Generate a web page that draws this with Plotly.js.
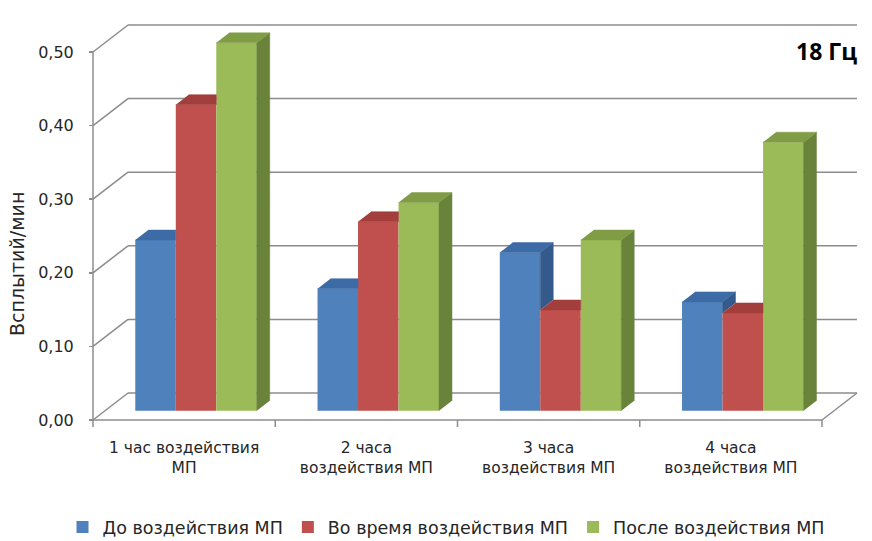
<!DOCTYPE html>
<html><head><meta charset="utf-8">
<script src="https://cdn.plot.ly/plotly-3.0.1.min.js"></script>
<style>html,body{margin:0;padding:0;background:#fff}#chart{width:872px;height:541px}</style>
</head><body><div id="chart"></div>
<script>
// ---- data ----
const categories = ['1 час воздействия<br>МП', '2 часа<br>воздействия МП', '3 часа<br>воздействия МП', '4 часа<br>воздействия МП'];
const seriesNames = ['До воздействия МП', 'Во время воздействия МП', 'После воздействия МП'];
const beforeVals = [0.232, 0.166, 0.215, 0.148];
const duringVals = [0.416, 0.257, 0.137, 0.133];
const afterVals  = [0.500, 0.283, 0.232, 0.365];
const yTickVals = [0, 0.1, 0.2, 0.3, 0.4, 0.5];
const yTickText = ['0,00', '0,10', '0,20', '0,30', '0,40', '0,50'];
const yTitle = 'Всплытий/мин';
const chartTitle = '<b>18 Гц</b>';

// ---- style ----
const frontColors = ['#4F81BD', '#C0504D', '#9BBB59'];
const topColors   = ['#3D6BA6', '#A23E3B', '#809D46'];
const sideColors  = ['#335A8B', '#8A3432', '#69833A'];
const gridColor = '#8c8c8c';
const textColor = '#262626';
const FONT = '"DejaVu Sans", "Noto Sans", sans-serif';
const TITLE_FONT = '"Open Sans", "Noto Sans", sans-serif';

// ---- geometry (pixels) ----
const W = 872, H = 541;
const PL = 88, PR = 862, PT = 20, PB = 430;   // plot area
const AX0 = 93, AXY0 = 420;                    // front axis origin
const PXX = 182.25;                            // px per category
const PXY = 736;                               // px per value unit
const DEPTH_PX = [35, 27];                     // full depth offset (right, up)
const F1 = 0.34, F2 = 0.71;                    // bar front/back depth fraction
const BARGAP = 1 / 3;

const xr = [(PL - AX0) / PXX - 0.5, (PR - AX0) / PXX - 0.5];
const yr = [(AXY0 - PB) / PXY, (AXY0 - PT) / PXY];
const DX = DEPTH_PX[0] / PXX, DY = DEPTH_PX[1] / PXY;
const ddx = (F2 - F1) * DX, ddy = (F2 - F1) * DY;
const xr2 = [xr[0] - F1 * DX, xr[1] - F1 * DX];
const yr2 = [yr[0] - F1 * DY, yr[1] - F1 * DY];

const series = [beforeVals, duringVals, afterVals];
const nCat = categories.length;
const catIdx = categories.map((_, i) => i);
const xMin = -0.5, xMax = nCat - 0.5;

// ---- decoration shapes (walls / floor) ----
const shapes = [];
const ln = (x0, y0, x1, y1) => ({type: 'line', xref: 'x', yref: 'y', x0, y0, x1, y1, layer: 'below',
  line: {color: gridColor, width: 1.5}});
yTickVals.forEach(v => {
  shapes.push(ln(xMin + DX, v + DY, xMax + DX, v + DY));
  shapes.push(ln(xMin, v, xMin + DX, v + DY));
});
shapes.push(ln(xMin, 0, xMax, 0));
shapes.push(ln(xMax, 0, xMax + DX, DY));
shapes.push(ln(xMin, 0, xMin, yTickVals[yTickVals.length - 1]));
for (let b = 0; b <= nCat; b++) shapes.push(ln(xMin + b, 0, xMin + b, -7 / PXY));

// ---- traces ----
const traces = [];
const bw = (1 - BARGAP) / series.length;
// bar front faces
series.forEach((vals, s) => {
  traces.push({type: 'bar', x: catIdx, y: vals, name: seriesNames[s], xaxis: 'x2', yaxis: 'y2',
    marker: {color: frontColors[s], line: {width: 0}}, hoverinfo: 'skip'});
});
// side and top faces
series.forEach((vals, s) => {
  const sx = [], sy = [], tx = [], ty = [];
  vals.forEach((v, c) => {
    const xl = c + (s - (series.length - 1) / 2) * bw - bw / 2;
    const xrr = xl + bw;
    const vn = s < series.length - 1 ? series[s + 1][c] : null;
    let lo = null;
    if (vn === null) lo = 0; else if (v > vn) lo = vn;
    if (lo !== null) {
      sx.push(xrr, xrr, xrr + ddx, xrr + ddx, null);
      sy.push(lo, v, v + ddy, lo + ddy, null);
    }
    if (vn !== null && vn > v) {
      const cut = Math.min(vn, v + ddy);
      tx.push(xl, xrr, xrr, xrr + (v + ddy - cut) * ddx / ddy, xl + ddx, null);
      ty.push(v, v, cut, v + ddy, v + ddy, null);
    } else {
      tx.push(xl, xrr, xrr + ddx, xl + ddx, null);
      ty.push(v, v, v + ddy, v + ddy, null);
    }
  });
  traces.push({type: 'scatter', mode: 'lines', x: sx, y: sy, xaxis: 'x2', yaxis: 'y2', fill: 'toself',
    fillcolor: sideColors[s], line: {width: 0.5, color: sideColors[s]}, showlegend: false, hoverinfo: 'skip'});
  traces.push({type: 'scatter', mode: 'lines', x: tx, y: ty, xaxis: 'x2', yaxis: 'y2', fill: 'toself',
    fillcolor: topColors[s], line: {width: 0.5, color: topColors[s]}, showlegend: false, hoverinfo: 'skip'});
});

const pw = PR - PL, ph = PB - PT;
const layout = {
  width: W, height: H,
  margin: {l: PL, r: W - PR, t: PT, b: H - PB, pad: 0, autoexpand: false},
  paper_bgcolor: '#ffffff', plot_bgcolor: 'rgba(0,0,0,0)',
  font: {family: FONT, color: textColor},
  barmode: 'group', bargap: BARGAP, bargroupgap: 0,
  showlegend: true,
  legend: {orientation: 'h', xref: 'container', yref: 'paper', x: 446 / W, xanchor: 'center',
    y: (PB - 527) / ph, yanchor: 'middle',
    font: {size: 17.5, family: FONT, color: textColor}, traceorder: 'normal'},
  xaxis: {range: xr, tickmode: 'array', tickvals: catIdx, ticktext: categories, ticks: '',
    showgrid: false, zeroline: false, showline: false, tickfont: {size: 15.5, family: FONT, color: textColor},
    ticklabelstandoff: 6, fixedrange: true, automargin: false},
  yaxis: {range: yr, tickmode: 'array', tickvals: yTickVals, ticktext: yTickText, ticks: 'outside',
    ticklen: 4, tickcolor: gridColor, tickwidth: 1.5, showgrid: false, zeroline: false, showline: false,
    anchor: 'free', position: (AX0 - PL) / pw, tickfont: {size: 16, family: FONT, color: textColor},
    ticklabelstandoff: 12, fixedrange: true, automargin: false},
  xaxis2: {range: xr2, overlaying: 'x', anchor: 'y2', visible: false, fixedrange: true},
  yaxis2: {range: yr2, overlaying: 'y', anchor: 'x2', visible: false, fixedrange: true},
  shapes: shapes,
  annotations: [
    {text: yTitle, xref: 'paper', yref: 'paper', x: (17 - PL) / pw, y: (PB - 264) / ph, textangle: -90,
      showarrow: false, xanchor: 'center', yanchor: 'middle', font: {size: 19, family: FONT, color: textColor}},
    {text: chartTitle, xref: 'paper', yref: 'paper', x: (859 - PL) / pw, y: (PB - 51) / ph,
      showarrow: false, xanchor: 'right', yanchor: 'middle', font: {size: 23, family: TITLE_FONT, color: '#000'}}
  ]
};
Plotly.newPlot('chart', traces, layout, {staticPlot: true, displayModeBar: false});
</script></body></html>
